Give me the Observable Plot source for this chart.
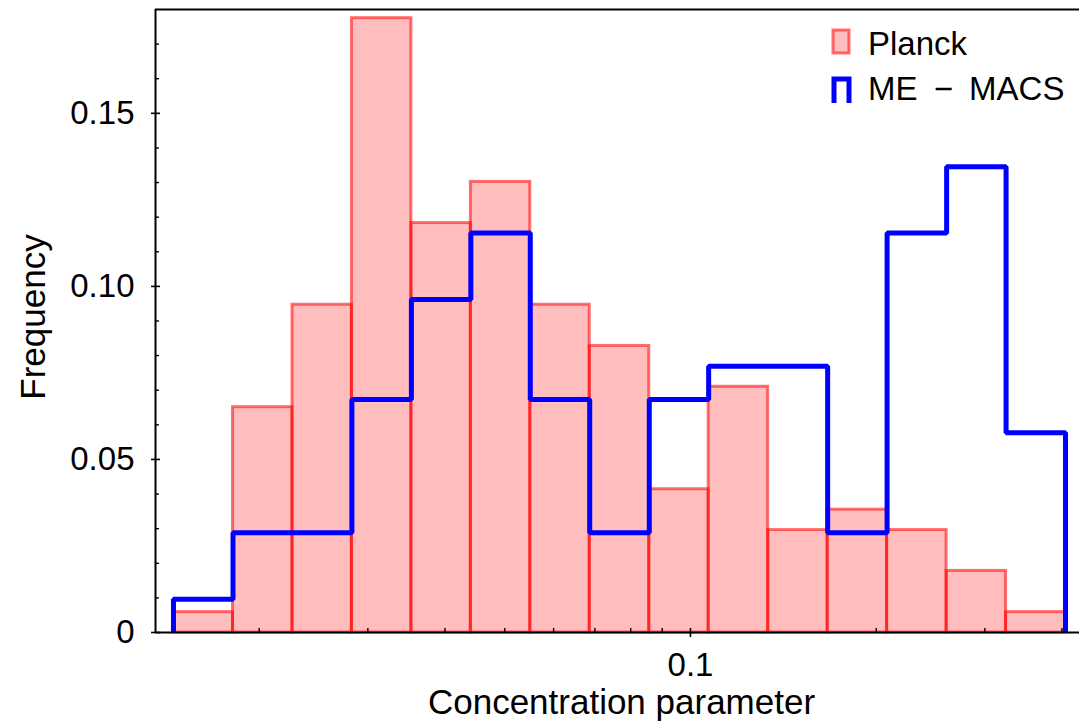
<!DOCTYPE html>
<html>
<head>
<meta charset="utf-8">
<script src="https://cdn.jsdelivr.net/npm/d3@7"></script>
<script src="https://cdn.jsdelivr.net/npm/@observablehq/plot@0.6"></script>
<style>
  body { margin: 0; background: #fff; }
  #chart { position: relative; width: 1079px; height: 727px; }
</style>
</head>
<body>
<div id="chart"></div>
<script>
// Logarithmic bin edges of the concentration parameter (15 bins)
const binEdges = [0.014525, 0.018138, 0.022646, 0.028267, 0.035294, 0.044058, 0.055003, 0.068661,
                  0.085748, 0.10702, 0.13364, 0.16685, 0.20829, 0.26010, 0.32471, 0.40535];

// Normalised frequency per bin
const planckFreq = [0.0059, 0.0651, 0.0947, 0.1775, 0.1183, 0.1302, 0.0947, 0.0828,
                    0.0414, 0.0710, 0.0296, 0.0355, 0.0296, 0.0178, 0.0059];
const macsFreq   = [0.0096, 0.0288, 0.0288, 0.0673, 0.0962, 0.1154, 0.0673, 0.0288,
                    0.0673, 0.0769, 0.0769, 0.0288, 0.1154, 0.1346, 0.0577];

const seriesNames = ["Planck", "ME \u2212 MACS"];

// Axis ticks
const xMajorTicks = [0.1];
const xMinorTicks = [0.02, 0.03, 0.04, 0.05, 0.06, 0.07, 0.08, 0.09, 0.2, 0.3, 0.4];
const yMajorTicks = [0, 0.05, 0.10, 0.15];
const yMinorTicks = [0.01, 0.02, 0.03, 0.04, 0.06, 0.07, 0.08, 0.09, 0.11, 0.12, 0.13, 0.14, 0.16, 0.17];
const xDomain = [0.013582, 0.42706];
const yDomain = [0, 0.18];

// Bars for the first series
const planckBins = planckFreq.map((f, i) => ({x1: binEdges[i], x2: binEdges[i + 1], freq: f}));

// Step outline for the second series, closed down to zero on both ends
const macsStep = [{x: binEdges[0], y: 0}]
  .concat(macsFreq.map((f, i) => ({x: binEdges[i], y: f})))
  .concat([{x: binEdges[binEdges.length - 1], y: 0}]);

const yFormat = d => d === 0 ? "0" : d.toFixed(2);

const svg = Plot.plot({
  width: 1079,
  height: 727,
  marginLeft: 155,
  marginRight: 0,
  marginTop: 9,
  marginBottom: 95,
  style: {fontSize: "33px", fontFamily: "'Liberation Sans', Arial, sans-serif", color: "black", background: "white"},
  x: {type: "log", domain: xDomain, axis: null},
  y: {domain: yDomain, axis: null},
  marks: [
    Plot.rectY(planckBins, {x1: "x1", x2: "x2", y: "freq", fill: "red", fillOpacity: 0.26,
                            stroke: "red", strokeOpacity: 0.55, strokeWidth: 3}),
    Plot.line(macsStep, {x: "x", y: "y", curve: "step-after", stroke: "#0000ff",
                         strokeWidth: 5, strokeLinejoin: "miter", clip: true}),
    // spines: left, bottom, top
    Plot.ruleX([xDomain[0]], {stroke: "black", strokeWidth: 2}),
    Plot.ruleY([yDomain[0], yDomain[1]], {stroke: "black", strokeWidth: 2}),
    // y ticks
    Plot.axisY({ticks: yMajorTicks, tickSize: 9, dx: 5, fill: "none", strokeWidth: 1.6, label: null}),
    Plot.axisY({ticks: yMinorTicks, tickSize: 4, dx: 4, fill: "none", strokeWidth: 1.4, label: null}),
    Plot.axisY({ticks: yMajorTicks, tickSize: 0, tickPadding: 21, tickFormat: yFormat, label: null}),
    // x ticks
    Plot.axisX({ticks: xMajorTicks, tickSize: 9, dy: -4, fill: "none", strokeWidth: 1.6, label: null}),
    Plot.axisX({ticks: xMinorTicks, tickSize: 4, dy: -4, fill: "none", strokeWidth: 1.4, label: null}),
    Plot.axisX({ticks: xMajorTicks, tickSize: 0, tickPadding: 20, tickFormat: d => String(d), label: null}),
    // axis titles
    Plot.text(["Concentration parameter"], {frameAnchor: "bottom", text: d => d, dx: 4, dy: 81,
                                            lineAnchor: "bottom", textAnchor: "middle", fontSize: 35}),
    Plot.text(["Frequency"], {frameAnchor: "left", text: d => d, rotate: -90, dx: -111, dy: -4,
                              lineAnchor: "bottom", textAnchor: "middle", fontSize: 35})
  ]
});

// Legend in the upper-right corner of the axes
const legend = d3.select(svg).append("g").attr("class", "legend").attr("text-anchor", "start");
legend.append("rect")
  .attr("x", 833).attr("y", 30).attr("width", 16).attr("height", 23)
  .attr("fill", "red").attr("fill-opacity", 0.26)
  .attr("stroke", "red").attr("stroke-opacity", 0.55).attr("stroke-width", 3);
legend.append("path")
  .attr("d", "M834,103V79H849V103")
  .attr("fill", "none").attr("stroke", "#0000ff").attr("stroke-width", 5).attr("stroke-linejoin", "miter");
seriesNames.forEach((name, i) => {
  legend.append("text")
    .attr("x", 868).attr("y", 55 + i * 45)
    .attr("fill", "black")
    .attr("word-spacing", i === 1 ? 7 : 0)
    .text(name);
});

document.getElementById("chart").appendChild(svg);
</script>
</body>
</html>
